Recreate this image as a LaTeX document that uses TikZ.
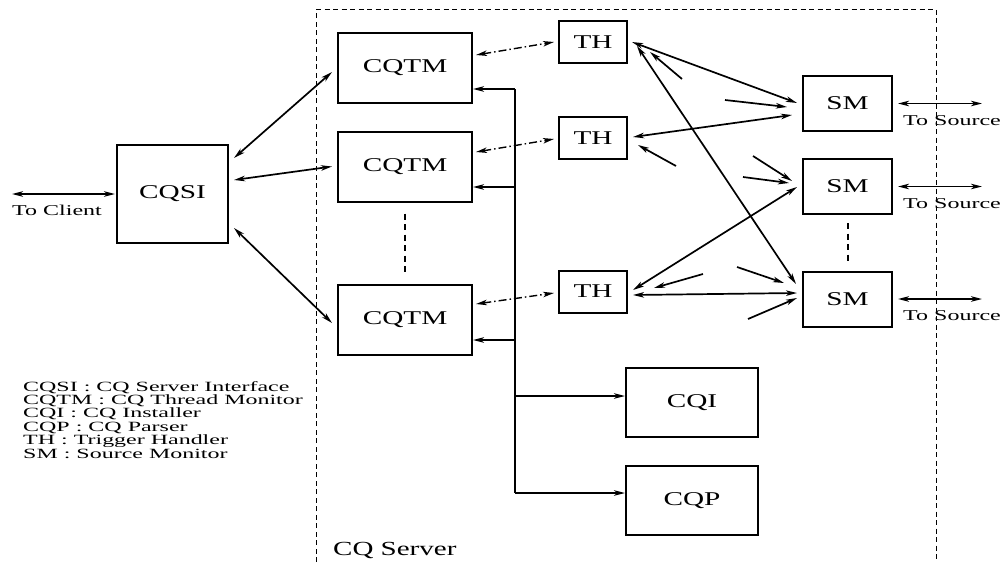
\documentclass[tikz,border=0pt]{standalone}
\usepackage{fontspec}
\setmainfont{Liberation Serif}
\newfontfamily\boxfont[FakeStretch=1.5]{Liberation Serif}
\newfontfamily\smallfont[FakeStretch=1.6]{Liberation Serif}
\newfontfamily\legfont[FakeStretch=1.7]{Liberation Serif}
\newfontfamily\titlefont[FakeStretch=1.45]{Liberation Serif}
\usetikzlibrary{arrows.meta,calc}
\begin{document}
\begin{tikzpicture}[x=1pt,y=-1pt,
  >={Stealth[length=11pt,width=5.5pt,inset=3pt]},
  box/.style={draw, line width=2pt, inner sep=0pt, font=\boxfont\fontsize{19.5}{22}\selectfont},
  link/.style={line width=1.7pt},
  arr/.style={link,->},
  dbl/.style={link,<->},
  dashdot/.style={line width=1.4pt, dash pattern=on 8pt off 3pt on 1.5pt off 3pt, <->},
  sep/.style={line width=2pt, dash pattern=on 6pt off 4.5pt},
  frame/.style={line width=1pt, dash pattern=on 5pt off 3.5pt},
  lbl/.style={inner sep=0pt, anchor=base west, font=\smallfont\fontsize{15}{17}\selectfont}
]
\useasboundingbox (0,0) rectangle (1003,562);

% server boundary (open at the bottom)
\draw[frame] (316,562) -- (316,9.5) -- (936,9.5) -- (936,562);
\node[inner sep=0pt, anchor=base west, font=\titlefont\fontsize{20}{22}\selectfont] (srvlabel) at (333,555) {CQ Server};

% boxes
\node[box, minimum width=111pt, minimum height=98pt] (cqsi) at (172.5,194) {CQSI};
\node[box, minimum width=134pt, minimum height=70pt] (cqtm1) at (405,68) {CQTM};
\node[box, minimum width=134pt, minimum height=70pt] (cqtm2) at (405,166.5) {CQTM};
\node[box, minimum width=134pt, minimum height=70pt] (cqtm3) at (405,319.5) {CQTM};
\node[box, minimum width=68pt, minimum height=42pt] (th1) at (593,42) {TH};
\node[box, minimum width=68pt, minimum height=42pt] (th2) at (593,138) {TH};
\node[box, minimum width=68pt, minimum height=42pt] (th3) at (593,291.5) {TH};
\node[box, minimum width=89pt, minimum height=55pt] (sm1) at (847.5,103.5) {SM};
\node[box, minimum width=89pt, minimum height=55pt] (sm2) at (847.5,186.5) {SM};
\node[box, minimum width=89pt, minimum height=55pt] (sm3) at (847.5,299) {SM};
\node[box, minimum width=132pt, minimum height=69pt] (cqi) at (692,402.5) {CQI};
\node[box, minimum width=132pt, minimum height=69pt] (cqp) at (692,500.5) {CQP};

% elided replicas
\draw[sep, shorten <=11pt, shorten >=11pt] (cqtm2.south) -- (cqtm3.north);
\draw[sep, shorten <=8pt, shorten >=10pt] (sm2.south) -- (sm3.north);

% client side
\coordinate (client) at (12,194);
\draw[dbl, shorten >=1pt] (client) -- (cqsi.west);
\node[lbl] (clientlbl) at (12,215) {To Client};

\draw[dbl] ($(cqsi.east)+(5,-36)$) -- ($(cqtm1.west)+(-5,4)$);
\draw[dbl] ($(cqsi.east)+(5,-14)$) -- ($(cqtm2.west)+(-5,0)$);
\draw[dbl] ($(cqsi.east)+(5,34)$) -- ($(cqtm3.west)+(-5,3.5)$);

% thread monitors to trigger handlers
\draw[dashdot] ($(cqtm1.east)+(3,-13)$) -- ($(th1.west)+(-4,0)$);
\draw[dashdot] ($(cqtm2.east)+(3,-14.5)$) -- ($(th2.west)+(-4,1)$);
\draw[dashdot] ($(cqtm3.east)+(3,-15.5)$) -- ($(th3.west)+(-4,1.5)$);

% internal bus
\coordinate (b1) at (515,89);
\coordinate (b2) at (515,187);
\coordinate (b3) at (515,340);
\coordinate (b4) at (515,396);
\coordinate (b5) at (515,493);
\draw[link] (b1) -- (b5);
\draw[arr] (b1) -- (b1 -| cqtm1.east);
\draw[arr] (b2) -- (b2 -| cqtm2.east);
\draw[arr] (b3) -- (b3 -| cqtm3.east);
\draw[arr] (b4) -- (b4 -| cqi.west);
\draw[arr] (b5) -- (b5 -| cqp.west);

% trigger handlers and source monitors
\draw[dbl] ($(th1.east)+(4,0)$) -- ($(sm1.west)+(-5,-0.5)$);
\draw[dbl] ($(th1.east)+(9,4)$) -- ($(sm3.west)+(-6,-15)$);
\draw[dbl] ($(th2.east)+(5,-1)$) -- ($(sm1.west)+(-10,11.5)$);
\draw[dbl] ($(th3.east)+(5,-1.5)$) -- ($(sm2.west)+(-5,0.5)$);
\draw[dbl] ($(th3.east)+(5,3.5)$) -- ($(sm3.west)+(-5,-6)$);

% incoming notifications
\coordinate (n1) at (682,79);
\coordinate (n2) at (725,100);
\coordinate (n3) at (676,166);
\coordinate (n4) at (753,156);
\coordinate (n5) at (743,177);
\coordinate (n6) at (703,274);
\coordinate (n7) at (737,267);
\coordinate (n8) at (748,319);
\draw[arr] (n1) -- ($(th1.east)+(22,10)$);
\draw[arr] (n2) -- ($(sm1.west)+(-15,3.5)$);
\draw[arr] (n3) -- ($(th2.east)+(10,7)$);
\draw[arr] (n4) -- ($(sm2.west)+(-10,-5.5)$);
\draw[arr] (n5) -- ($(sm2.west)+(-13,-3.5)$);
\draw[arr] (n6) -- ($(th3.east)+(26,-3.5)$);
\draw[arr] (n7) -- ($(sm3.west)+(-18,-16)$);
\draw[arr] (n8) -- ($(sm3.west)+(-5,-1)$);

% source side
\coordinate (src1) at (982,103.5);
\coordinate (src2) at (982,186.5);
\coordinate (src3) at (982,299);
\draw[dbl, shorten <=5pt] (sm1.east) -- (src1);
\draw[dbl, shorten <=5pt] (sm2.east) -- (src2);
\draw[dbl, shorten <=5pt] (sm3.east) -- (src3);
\node[lbl] (srclbl1) at (903,125) {To Source};
\node[lbl] (srclbl2) at (903,208) {To Source};
\node[lbl] (srclbl3) at (903,320) {To Source};

% legend
\node[inner sep=0pt, anchor=north west, align=left,
      font=\legfont\fontsize{14.1}{13.4}\selectfont] (legend) at (23,381)
  {CQSI : CQ Server Interface\\
   CQTM : CQ Thread Monitor\\
   CQI : CQ Installer\\
   CQP : CQ Parser\\
   TH : Trigger Handler\\
   SM : Source Monitor};
\end{tikzpicture}
\end{document}
